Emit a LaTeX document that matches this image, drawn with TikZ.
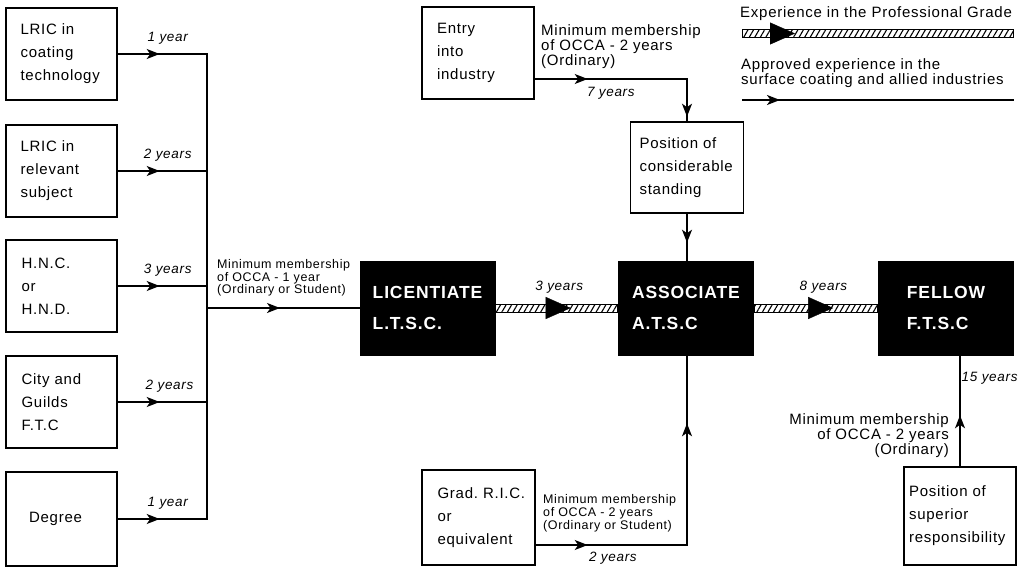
\documentclass[tikz,border=0pt]{standalone}
\usepackage{fontspec}
\setmainfont[LetterSpace=5]{Liberation Sans}
\usepackage{tikz}
\usetikzlibrary{arrows.meta,decorations.markings,patterns.meta}

\begin{document}
\begin{tikzpicture}[
		x=1pt, y=-1pt
		,box/.style={draw, line width=1.4pt, minimum width=111pt, minimum height=92pt, inner xsep=0pt, align=left, font=\fontsize{15}{23}\selectfont}
		,grade/.style={fill=black, text=white, minimum width=136pt, minimum height=95pt, align=left, font=\bfseries\fontsize{17.5}{31}\selectfont}
		,memo/.style={inner sep=0pt, align=left, font=\fontsize{12.5}{12.8}\selectfont}
		,memobig/.style={memo, font=\fontsize{15}{13}\selectfont}
		,yrs/.style={inner sep=1pt, font=\itshape\fontsize{13.5}{14}\selectfont}
		,conn/.style={line width=1.4pt, line cap=rect}
		,band/.style={draw, line width=1pt, pattern={Lines[angle=60, distance=4.8pt, line width=1.1pt]}}
		,tipat/.style={postaction={decorate, decoration={markings, mark=at position #1 with {\arrow{Stealth[length=13pt, width=10pt, inset=3.5pt]}}}}}
		,tipbig/.style={postaction={decorate, decoration={markings, mark=at position #1 with {\arrow{Triangle[length=25pt, width=22pt]}}}}}
	]
		\useasboundingbox (0,0) rectangle (1026,567);

		% entry qualifications
		\node[box, text width=82pt] (lric) at (61.5,54) {LRIC in\\coating\\technology};
		\node[box, text width=82pt] (lricrel) at (61.5,171) {LRIC in\\relevant\\subject};
		\node[box, text width=80pt] (hnc) at (61.5,286) {H.N.C.\\or\\H.N.D.};
		\node[box, text width=80pt] (cgli) at (61.5,402) {City and\\Guilds\\F.T.C};
		\node[box, text width=65pt, minimum height=94pt] (deg) at (61.5,519) {Degree};
		\coordinate (trunk) at (207,0);

		% grades
		\node[grade] (lic) at (427.5,308) {LICENTIATE\\L.T.S.C.};
		\node[grade] (assoc) at (686,308) {ASSOCIATE\\A.T.S.C};
		\node[grade] (fellow) at (946,308) {FELLOW\\F.T.S.C};

		% other routes
		\node[box, text width=82pt, minimum width=112pt] (entry) at (478,53) {Entry\\into\\industry};
		\node[box, text width=95pt, minimum width=113pt, minimum height=91pt] (stand) at (687,167.5) {Position of\\considerable\\standing};
		\node[box, text width=82pt, minimum width=113pt, minimum height=95pt] (grad) at (478.5,517.5) {Grad.~R.I.C.\\or\\equivalent};
		\node[box, text width=102pt, minimum width=112pt, minimum height=98pt] (super) at (960,516) {Position of\\superior\\responsibility};
		\coordinate (eturn) at (687,79);
		\coordinate (gturn) at (687,545);

		\node[memo, anchor=north west] (occa1) at (217,259) {Minimum membership\\of OCCA - 1 year\\(Ordinary or Student)};
		\node[memobig, anchor=north west] (occa2) at (541,24.5) {Minimum membership\\of OCCA - 2 years\\(Ordinary)};
		\node[memo, anchor=north west] (occa3) at (543,494.5) {Minimum membership\\of OCCA - 2 years\\(Ordinary or Student)};
		\node[memobig, align=right, anchor=north east, font=\fontsize{15}{15}\selectfont] (occa4) at (949,413) {Minimum membership\\of OCCA - 2 years\\(Ordinary)};

		% key
		\node[memo, anchor=north west, font=\fontsize{15}{15}\selectfont] (keygrade) at (740,6.5) {Experience in the Professional Grade};
		\coordinate (kg1) at (742,33.5);
		\coordinate (kg2) at (1013,33.5);
		\node[memo, anchor=north west, font=\fontsize{15}{15}\selectfont] (keyind) at (741,58) {Approved experience in the\\surface coating and allied industries};
		\coordinate (ki1) at (743,100);
		\coordinate (ki2) at (1013,100);

		\draw[conn, tipat=42pt] (lric.east) -- node[yrs, above=8pt, pos=.56] {1 year} (lric.east -| trunk);
		\draw[conn, tipat=42pt] (lricrel.east) -- node[yrs, above=8pt, pos=.56] {2 years} (lricrel.east -| trunk);
		\draw[conn, tipat=42pt] (hnc.east) -- node[yrs, above=8pt, pos=.56] {3 years} (hnc.east -| trunk);
		\draw[conn, tipat=42pt] (cgli.east) -- node[yrs, above=8pt, pos=.58] {2 years} (cgli.east -| trunk);
		\draw[conn, tipat=42pt] (deg.east) -- node[yrs, above=8pt, pos=.56] {1 year} (deg.east -| trunk);
		\draw[conn] (lric.east -| trunk) -- (deg.east -| trunk);
		\draw[conn, tipat=73pt] (lic.west -| trunk) -- (lic.west);

		\draw[band] ([yshift=4pt]lic.east) rectangle ([yshift=-4pt]assoc.west);
		\path[tipbig=75pt] (lic.east) -- node[yrs, above=13pt, pos=.52] {3 years} (assoc.west);
		\draw[band] ([yshift=4pt]assoc.east) rectangle ([yshift=-4pt]fellow.west);
		\path[tipbig=79pt] (assoc.east) -- node[yrs, above=13pt, pos=.56] {8 years} (fellow.west);

		\draw[conn, tipat=53pt, tipat=190pt] (entry.east |- eturn) -- node[yrs, below=7pt, pos=.5] {7 years} (eturn) -- (stand.north);
		\draw[conn, tipat=29pt] (stand.south) -- (stand.south |- assoc.north);
		\draw[conn, tipat=52pt, tipat=273pt] (grad.east |- gturn) -- node[yrs, below=5pt, pos=.51] {2 years} (gturn) -- (gturn |- assoc.south);
		\draw[conn, tipat=51pt] (super.north) -- node[yrs, right=0pt, pos=.8] {15 years} (super.north |- fellow.south);

		\draw[band] ([yshift=4pt]kg1) rectangle ([yshift=-4pt]kg2);
		\path[tipbig=53pt] (kg1) -- (kg2);
		\draw[conn, tipat=37pt] (ki1) -- (ki2);
	\end{tikzpicture}
\end{document}
